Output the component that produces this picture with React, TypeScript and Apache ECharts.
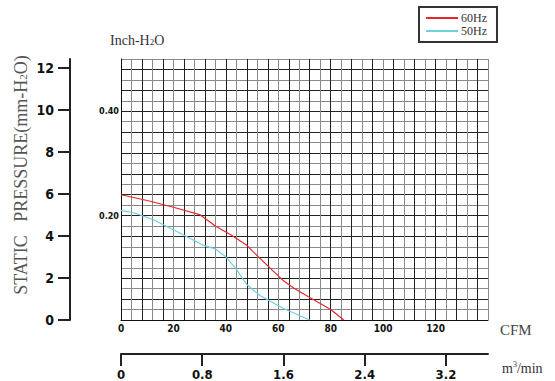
import React, { useEffect, useRef } from "react";
import * as echarts from "echarts";

const cfmTickLabels = [0, 20, 40, 60, 80, 100, 120];
const m3TickLabels = [0, 0.8, 1.6, 2.4, 3.2];
const mmTickLabels = [0, 2, 4, 6, 8, 10, 12];
const inchTickLabels = [0.2, 0.4];

// [CFM, inch-H2O]
const hz60: number[][] = [
  [0, 0.240], [10, 0.229], [20, 0.216], [30, 0.202], [36, 0.180], [42, 0.163],
  [48, 0.143], [53, 0.118], [58, 0.094], [62, 0.075], [66, 0.061], [72, 0.043],
  [80, 0.020], [85, 0],
];
const hz50: number[][] = [
  [0, 0.210], [5, 0.205], [12, 0.193], [20, 0.173], [25, 0.160], [31, 0.144],
  [36, 0.136], [40, 0.121], [44, 0.097], [48, 0.068], [53, 0.047], [58, 0.033],
  [62, 0.022], [67, 0.011], [72, 0],
];

const SERIF = "'Liberation Serif', 'Times New Roman', serif";
const NARROW = "'Liberation Sans Narrow', 'DejaVu Sans Condensed', 'Arial Narrow', sans-serif";

export default function App() {
  const ref = useRef<HTMLDivElement>(null);
  useEffect(() => {
    document.body.style.margin = "0";
    const chart = echarts.init(ref.current!, null, { renderer: "svg" });
    chart.setOption({
      animation: false,
      backgroundColor: "#fff",
      grid: { left: 121, top: 59, width: 367, height: 261, show: false },
      legend: {
        orient: "vertical",
        left: 419,
        top: 7,
        padding: [5, 10, 5, 7],
        borderColor: "#333",
        borderWidth: 2,
        itemWidth: 32,
        itemHeight: 2,
        itemGap: 1,
        icon: "rect",
        textStyle: { fontFamily: SERIF, fontSize: 12, color: "#333", padding: [0, 0, 0, -2] },
        data: ["60Hz", "50Hz"],
      },
      xAxis: [
        {
          type: "value",
          min: 0,
          max: 140,
          interval: 4,
          axisLine: { show: true, lineStyle: { color: "#111", width: 1 } },
          axisTick: { show: false },
          axisLabel: {
            customValues: cfmTickLabels,
            margin: 3,
            fontFamily: NARROW,
            fontWeight: "bold",
            fontSize: 10,
            color: "#111",
          },
          splitLine: { show: true, lineStyle: { color: ["#222", "#8a8a8a"], width: 1 } },
        },
        {
          type: "value",
          position: "bottom",
          offset: 34,
          min: 0,
          max: 3.614,
          axisLine: { show: true, onZero: false, lineStyle: { color: "#222", width: 2 } },
          axisTick: { show: true, customValues: m3TickLabels, length: 12, lineStyle: { color: "#222", width: 2 } },
          axisLabel: {
            customValues: m3TickLabels,
            margin: 14,
            fontFamily: NARROW,
            fontWeight: "bold",
            fontSize: 13,
            color: "#111",
          },
          splitLine: { show: false },
        },
      ],
      yAxis: [
        {
          type: "value",
          min: 0,
          max: 0.5,
          interval: 0.02,
          axisLine: { show: true, lineStyle: { color: "#111", width: 1 } },
          axisTick: { show: false },
          axisLabel: {
            customValues: inchTickLabels,
            formatter: (v: number) => v.toFixed(2),
            margin: 2,
            fontFamily: NARROW,
            fontWeight: "bold",
            fontSize: 9,
            color: "#111",
          },
          splitLine: { show: true, lineStyle: { color: ["#222", "#8a8a8a"], width: 1 } },
        },
        {
          type: "value",
          position: "left",
          offset: 51,
          min: 0,
          max: 12.43,
          axisLine: { show: true, onZero: false, lineStyle: { color: "#222", width: 2 } },
          axisTick: { show: true, customValues: mmTickLabels, length: 12, lineStyle: { color: "#222", width: 2 } },
          axisLabel: {
            customValues: mmTickLabels,
            margin: 16,
            fontFamily: NARROW,
            fontWeight: "bold",
            fontSize: 14,
            color: "#111",
          },
          splitLine: { show: false },
        },
      ],
      series: [
        {
          name: "60Hz",
          type: "line",
          data: hz60,
          showSymbol: false,
          symbol: "none",
          lineStyle: { color: "#e8262b", width: 1.2 },
          itemStyle: { color: "#e8262b" },
          z: 5,
        },
        {
          name: "50Hz",
          type: "line",
          data: hz50,
          showSymbol: false,
          symbol: "none",
          lineStyle: { color: "#6dd0df", width: 1.2 },
          itemStyle: { color: "#6dd0df" },
          z: 5,
        },
      ],
      graphic: [
        {
          type: "text",
          x: 110,
          y: 40,
          style: {
            text: "Inch-H{s|2}O",
            fontFamily: SERIF,
            fontSize: 14,
            fill: "#333",
            verticalAlign: "middle",
            rich: { s: { fontFamily: SERIF, fontSize: 9, fill: "#333", padding: [3, 0, 0, 0] } },
          },
        },
        {
          type: "text",
          x: 21,
          y: 175,
          rotation: Math.PI / 2,
          style: {
            text: "STATIC   PRESSURE(mm-H{s|2}O)",
            fontFamily: SERIF,
            fontSize: 18,
            fill: "#555",
            align: "center",
            verticalAlign: "middle",
            rich: { s: { fontFamily: SERIF, fontSize: 11, fill: "#555", padding: [4, 0, 0, 0] } },
          },
        },
        {
          type: "text",
          x: 500,
          y: 330,
          style: { text: "CFM", fontFamily: SERIF, fontSize: 15, fill: "#444", verticalAlign: "middle" },
        },
        {
          type: "text",
          x: 502,
          y: 368,
          style: {
            text: "m{p|3}/min",
            fontFamily: SERIF,
            fontSize: 14,
            fill: "#333",
            verticalAlign: "middle",
            rich: { p: { fontFamily: SERIF, fontSize: 8, fill: "#333", padding: [0, 0, 8, 0] } },
          },
        },
      ],
    });
    return () => chart.dispose();
  }, []);
  return <div ref={ref} style={{ position: "fixed", left: 0, top: 0, width: 555, height: 381 }} />;
}
